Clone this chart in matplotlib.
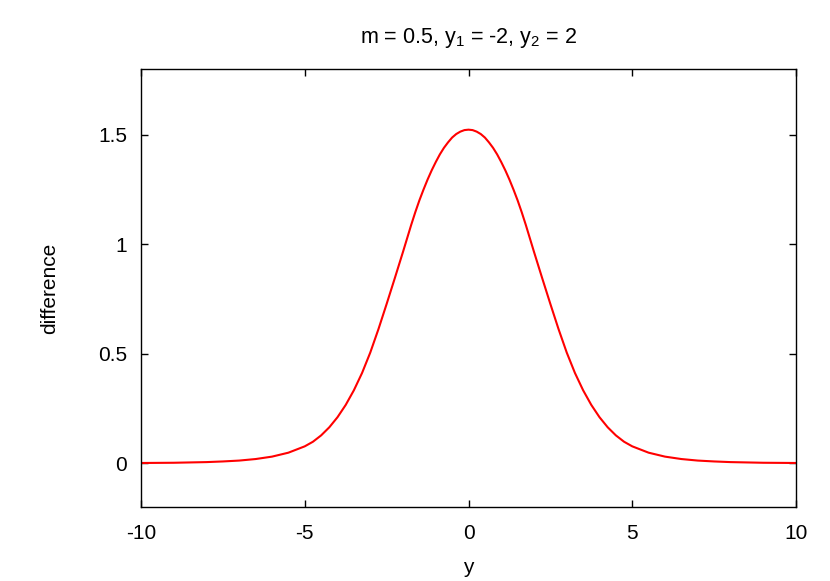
import matplotlib
matplotlib.use("Agg")
import matplotlib.pyplot as plt
import numpy as np

# curve (symmetric about y = 0)
y_half = [0.0, 0.125, 0.25, 0.375, 0.5, 0.625, 0.75, 0.875, 1.0, 1.125,
          1.25, 1.375, 1.5, 1.625, 1.75, 2.0, 2.25, 2.5, 2.75,
          3.0, 3.25, 3.5, 3.75, 4.0, 4.25, 4.5, 4.75, 5.0, 5.5, 6.0, 6.5,
          7.0, 7.5, 8.0, 9.0, 10.0]
diff_half = [1.523, 1.521, 1.514, 1.503, 1.487, 1.465, 1.440, 1.410, 1.375,
             1.337, 1.295, 1.249, 1.200, 1.146, 1.088, 0.965,
             0.845, 0.727, 0.612, 0.505, 0.412, 0.333, 0.266, 0.210, 0.164,
             0.127, 0.098, 0.077, 0.048, 0.030, 0.019, 0.012, 0.008, 0.005,
             0.002, 0.001]

xticks = [-10, -5, 0, 5, 10]
yticks = [0, 0.5, 1, 1.5]
ytick_labels = ["0", "0.5", "1", "1.5"]

plt.rcParams["font.family"] = ["Liberation Sans", "DejaVu Sans"]
plt.rcParams["mathtext.fontset"] = "custom"
plt.rcParams["mathtext.rm"] = "Liberation Sans"
plt.rcParams["mathtext.default"] = "regular"

yy = np.concatenate([-np.array(y_half[:0:-1]), np.array(y_half)])
dd = np.concatenate([np.array(diff_half[:0:-1]), np.array(diff_half)])

fig = plt.figure(figsize=(8.3, 5.81), dpi=100)
ax = fig.add_axes([141 / 830, 1 - 507 / 581, 655 / 830, 438 / 581])

ax.plot(yy, dd, color="#ff0000", lw=1.5)

ax.set_xlim(-10, 10)
ax.set_ylim(-0.2, 1.8)
ax.set_xticks(xticks)
ax.set_xticklabels([str(t) for t in xticks])
ax.set_yticks(yticks)
ax.set_yticklabels(ytick_labels)
ax.tick_params(direction="in", top=True, right=True, length=5, width=1,
               labelsize=15)
ax.tick_params(axis="x", pad=12)
ax.tick_params(axis="y", pad=10)
for s in ax.spines.values():
    s.set_linewidth(1)

ax.set_xlabel("y", fontsize=15, labelpad=11)
ax.set_ylabel("difference", fontsize=15, labelpad=28)
ax.set_title("m = 0.5, $y_1$ = -2, $y_2$ = 2", fontsize=15.5, pad=19)

fig.savefig("out.png", dpi=100)
